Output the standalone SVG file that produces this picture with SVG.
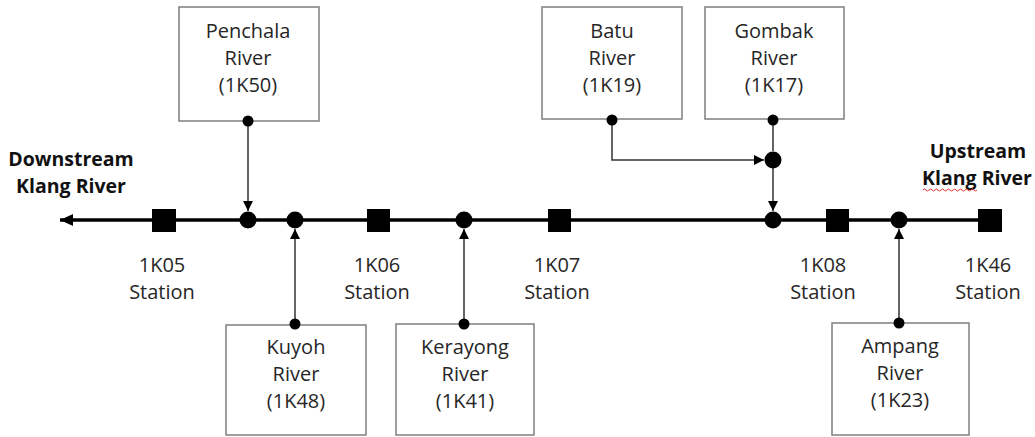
<svg xmlns="http://www.w3.org/2000/svg" width="1035" height="437" viewBox="0 0 1035 437">
<style>
.box{fill:#fff;stroke:#7f7f7f;stroke-width:1.5}
.t{font-family:"Open Sans","Liberation Sans",sans-serif;font-size:20px;fill:#262626;text-anchor:middle}
.b{font-family:"Open Sans","Liberation Sans",sans-serif;font-size:19.5px;font-weight:bold;fill:#111;text-anchor:middle}
.c{stroke:#333;stroke-width:1.5;fill:none}
.main{stroke:#000;stroke-width:3.5;fill:none}
.dot{fill:#000}
</style>
<defs>
<marker id="ah" markerUnits="userSpaceOnUse" markerWidth="12" markerHeight="12" refX="10" refY="5" orient="auto">
<path d="M0,0 L10,5 L0,10 z" fill="#000"/>
</marker>
<marker id="ahm" markerUnits="userSpaceOnUse" markerWidth="16" markerHeight="14" refX="13" refY="6" orient="auto">
<path d="M0,0 L13,6 L0,12 z" fill="#000"/>
</marker>
</defs>
<g id="connectors">
<line class="main" x1="990" y1="220" x2="60" y2="220" marker-end="url(#ahm)"/>
<line class="c" x1="248" y1="121" x2="248" y2="211" marker-end="url(#ah)"/>
<line class="c" x1="295" y1="324" x2="295" y2="229" marker-end="url(#ah)"/>
<line class="c" x1="464" y1="324" x2="464" y2="229" marker-end="url(#ah)"/>
<polyline class="c" points="612,120 612,160 764,160" marker-end="url(#ah)"/>
<line class="c" x1="773" y1="119" x2="773" y2="151"/>
<line class="c" x1="773" y1="168" x2="773" y2="211" marker-end="url(#ah)"/>
<line class="c" x1="899" y1="323" x2="899" y2="229" marker-end="url(#ah)"/>
</g>
<g id="junctions">
<circle class="dot" cx="248" cy="220" r="8.5"/>
<circle class="dot" cx="295" cy="220" r="8.5"/>
<circle class="dot" cx="464" cy="220" r="8.5"/>
<circle class="dot" cx="773" cy="220" r="8.5"/>
<circle class="dot" cx="773" cy="160" r="8.5"/>
<circle class="dot" cx="899" cy="220" r="8.5"/>
</g>
<g id="label-downstream">
<text class="b" x="71" y="166">Downstream</text>
<text class="b" x="71" y="193">Klang River</text>
</g>
<g id="label-upstream">
<text class="b" x="978" y="158">Upstream</text>
<text class="b" x="977" y="185">Klang River</text>
<path d="M923,190 q1.5,-2 3,0 t3,0 t3,0 t3,0 t3,0 t3,0 t3,0 t3,0 t3,0 t3,0 t3,0 t3,0 t3,0 t3,0 t3,0 t3,0 t3,0 t3,0" fill="none" stroke="#e03030" stroke-width="1"/>
</g>
<g id="st-1K05">
<rect x="152" y="209" width="24" height="23" fill="#000"/>
<text class="t" x="162" y="272">1K05</text>
<text class="t" x="162" y="299">Station</text>
</g>
<g id="st-1K06">
<rect x="367" y="209" width="23" height="23" fill="#000"/>
<text class="t" x="377" y="272">1K06</text>
<text class="t" x="377" y="299">Station</text>
</g>
<g id="st-1K07">
<rect x="548" y="209" width="23" height="23" fill="#000"/>
<text class="t" x="557" y="272">1K07</text>
<text class="t" x="557" y="299">Station</text>
</g>
<g id="st-1K08">
<rect x="826" y="209" width="23" height="23" fill="#000"/>
<text class="t" x="823" y="272">1K08</text>
<text class="t" x="823" y="299">Station</text>
</g>
<g id="st-1K46">
<rect x="978" y="209" width="24" height="23" fill="#000"/>
<text class="t" x="988" y="272">1K46</text>
<text class="t" x="988" y="299">Station</text>
</g>
<g id="penchala">
<rect class="box" x="179" y="7" width="140" height="114"/>
<text class="t" x="248" y="38">Penchala</text>
<text class="t" x="248" y="65">River</text>
<text class="t" x="248" y="92">(1K50)</text>
<circle class="dot" cx="248" cy="121" r="5.5"/>
</g>
<g id="batu">
<rect class="box" x="542" y="7" width="140" height="112"/>
<text class="t" x="612" y="38">Batu</text>
<text class="t" x="612" y="65">River</text>
<text class="t" x="612" y="92">(1K19)</text>
<circle class="dot" cx="612" cy="120" r="5.5"/>
</g>
<g id="gombak">
<rect class="box" x="705" y="7" width="139" height="112"/>
<text class="t" x="774" y="38">Gombak</text>
<text class="t" x="774" y="65">River</text>
<text class="t" x="774" y="92">(1K17)</text>
<circle class="dot" cx="773" cy="120" r="5.5"/>
</g>
<g id="kuyoh">
<rect class="box" x="226" y="325" width="140" height="110"/>
<text class="t" x="296" y="354">Kuyoh</text>
<text class="t" x="296" y="381">River</text>
<text class="t" x="296" y="408">(1K48)</text>
<circle class="dot" cx="295" cy="324" r="5.5"/>
</g>
<g id="kerayong">
<rect class="box" x="396" y="324" width="138" height="111"/>
<text class="t" x="465" y="354">Kerayong</text>
<text class="t" x="465" y="381">River</text>
<text class="t" x="465" y="408">(1K41)</text>
<circle class="dot" cx="464" cy="324" r="5.5"/>
</g>
<g id="ampang">
<rect class="box" x="832" y="323" width="137" height="112"/>
<text class="t" x="900" y="353">Ampang</text>
<text class="t" x="900" y="380">River</text>
<text class="t" x="900" y="407">(1K23)</text>
<circle class="dot" cx="899" cy="323" r="5.5"/>
</g>
</svg>
